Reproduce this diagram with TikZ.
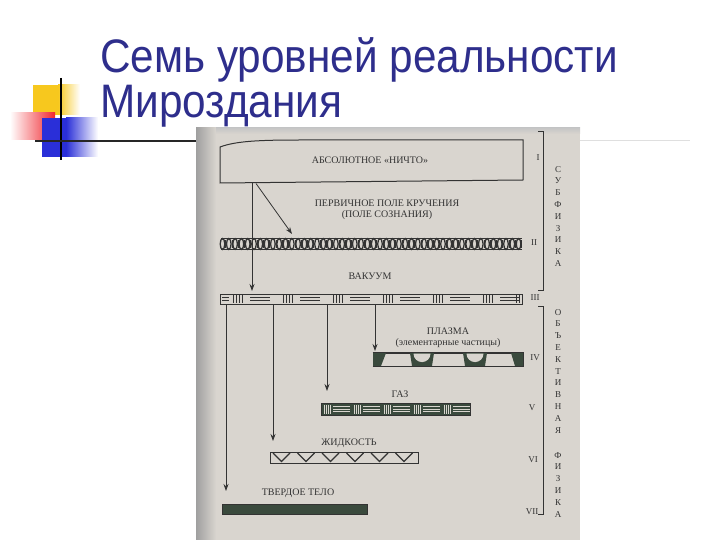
\documentclass[tikz,border=0pt]{standalone}
\usepackage{fontspec}
\setmainfont{Liberation Serif}
\newfontfamily\titlefont{Liberation Sans}
\usetikzlibrary{positioning,arrows.meta}
\definecolor{titleblue}{HTML}{2E2E8C}
\definecolor{scan}{HTML}{D9D5CF}
\definecolor{ink}{HTML}{333333}
\definecolor{inkgreen}{HTML}{3A4A3D}
\definecolor{logoyellow}{HTML}{F7C81E}
\definecolor{logored}{HTML}{F0262E}
\definecolor{logoblue}{HTML}{2A2FD8}

\tikzset{
    lbl/.style={font=\fontsize{10}{11}\selectfont, text=ink, inner sep=0pt, align=center},
    roman/.style={font=\fontsize{9}{10}\selectfont, text=ink, inner sep=0pt},
    sidetext/.style={font=\fontsize{9}{11.8}\selectfont, text=ink, inner sep=0pt, align=center, anchor=north},
    band/.style={draw=ink, line width=1pt, inner sep=0pt, minimum height=#1},
    arr/.style={-{Stealth[length=7pt,width=5pt]}, draw=ink, line width=0.8pt}
}

\begin{document}
\begin{tikzpicture}[x=1pt, y=-1pt]
    \useasboundingbox (0,0) rectangle (720,540);

    % title
    \node[font=\titlefont\fontsize{47}{50}\selectfont, text=titleblue, anchor=base west,
          inner sep=0pt, xscale=0.9, transform shape] (title1) at (100,73) {Семь уровней реальности};
    \node[font=\titlefont\fontsize{47}{50}\selectfont, text=titleblue, anchor=base west,
          inner sep=0pt, xscale=0.9, transform shape] (title2) at (100,118) {Мироздания};

    % logo
    \fill[logoyellow] (33,85) rectangle (58,115);
    \shade[left color=logoyellow, right color=white] (58,85) rectangle (80,115);
    \shade[left color=white, right color=logored] (10,113) rectangle (55,140);
    \fill[logoblue] (42,118) rectangle (66,157);
    \shade[left color=logoblue, right color=white] (66,118) rectangle (98,157);
    \draw[black, line width=1.6pt] (61,78) -- (61,160);
    \draw[black!85, line width=2pt] (35,141) -- (197,141);
    \draw[gray!25, line width=1pt] (580,141) -- (690,141);

    % scanned sheet
    \fill[scan] (196,128) rectangle (580,540);
    \shade[left color=gray!75, right color=scan] (196,128) rectangle (216,540);
    \shade[top color=gray!45, bottom color=scan] (216,128) rectangle (580,134);

    % levels
    \node[band=43pt, draw=none, minimum width=303pt] (absol) at (371.5,161.5) {};
    \draw[ink, line width=1pt] (220,183) -- (220,147) .. controls (236,141) and (260,140) .. (300,140)
        -- (523,140) -- (523,180) -- cycle;
    \node[lbl] at (370,160) {АБСОЛЮТНОЕ «НИЧТО»};
    \node[band=12pt, draw=none, minimum width=302pt] (lvII) at (371,244) {};
    \node[band=10pt, minimum width=302pt] (lvIII) at (371,299) {};
    \node[band=13pt, minimum width=150pt] (lvIV) at (448,359.5) {};
    \node[band=12pt, fill=inkgreen, minimum width=149pt] (lvV) at (395.5,409) {};
    \node[band=11pt, minimum width=148pt] (lvVI) at (344,457.5) {};
    \node[band=10pt, fill=inkgreen, minimum width=145pt] (lvVII) at (294.5,509) {};

    % II: chain
    \foreach \i in {0,...,47} {
        \draw[ink, line width=1.3pt] (222.5+6.3*\i,244) ellipse (2.3pt and 5.4pt);
        \draw[ink, line width=0.8pt] (225.65+6.3*\i,240) -- (225.65+6.3*\i,248);
    }
    \draw[ink, line width=0.8pt] (221,238.8) -- (522,238.8) (221,249.2) -- (522,249.2);

    % III: bars and double strokes
    \foreach \i in {0,...,5} {
        \foreach \k in {0,...,3}
            \draw[ink, line width=0.9pt] (233+50*\i+3*\k,295) -- (233+50*\i+3*\k,303);
        \draw[ink, line width=1.3pt] (250+50*\i,297.3) -- (270+50*\i,297.3)
                                     (250+50*\i,300.7) -- (270+50*\i,300.7);
    }
    \draw[ink, line width=1.3pt] (222,297.3) -- (229,297.3) (222,300.7) -- (229,300.7);
    \draw[ink, line width=0.9pt] (516,295) -- (516,303) (519,295) -- (519,303);

    % IV: arches
    \foreach \x in {410,463} {
        \fill[inkgreen] (\x,353) -- (\x+2,366) -- (\x+22,366) -- (\x+24,353) -- cycle;
        \fill[scan] (\x+3.5,353.6) arc[start angle=180, end angle=360, radius=8.5pt] -- cycle;
    }
    \fill[inkgreen] (373,353) -- (386,353) -- (381,366) -- (373,366) -- cycle;
    \fill[inkgreen] (511,353) -- (523,353) -- (523,366) -- (515,366) -- cycle;
    \draw[ink, line width=1.4pt] (lvIV.north west) -- (lvIV.north east)
                                 (lvIV.south west) -- (lvIV.south east);

    % V: light strokes on dark
    \foreach \i in {0,...,4} {
        \foreach \k in {0,...,3}
            \draw[scan, line width=0.5pt] (324+30*\i+2.2*\k,404.5) -- (324+30*\i+2.2*\k,413.5);
        \draw[scan, line width=0.6pt] (333+30*\i,406.5) -- (350+30*\i,406.5)
                                      (333+30*\i,409) -- (350+30*\i,409)
                                      (333+30*\i,411.5) -- (350+30*\i,411.5);
    }

    % VI: zigzag
    \foreach \i in {0,...,5}
        \draw[ink, line width=1.3pt] (273+24.5*\i,453) -- (281.5+24.5*\i,461.5) -- (290+24.5*\i,453);

    % labels
    \node[lbl] (pole) at (387,209.5) {ПЕРВИЧНОЕ ПОЛЕ КРУЧЕНИЯ\\(ПОЛЕ СОЗНАНИЯ)};
    \node[lbl] (vakuum) at (370,276) {ВАКУУМ};
    \node[lbl] (plazma) [above=5pt of lvIV] {ПЛАЗМА\\(элементарные частицы)};
    \node[lbl] (gaz) at (400,394) {ГАЗ};
    \node[lbl] (zhidk) at (349,443) {ЖИДКОСТЬ};
    \node[lbl] (tverd) at (298,493) {ТВЕРДОЕ ТЕЛО};

    % roman numerals
    \node[roman] (rI) at (538,158) {I};
    \node[roman] (rII) at (534,243) {II};
    \node[roman] (rIII) at (535,298) {III};
    \node[roman] (rIV) at (535,358) {IV};
    \node[roman] (rV) at (532,408) {V};
    \node[roman] (rVI) at (533,460) {VI};
    \node[roman] (rVII) at (532,512) {VII};

    % brackets
    \draw[ink, line width=0.9pt] (538,131) -- (543,131) -- (543,290) -- (538,290);
    \draw[ink, line width=0.9pt] (538,306) -- (543,306) -- (543,514) -- (538,514);
    \node[sidetext] (subf) at (558,166) {С\\У\\Б\\Ф\\И\\З\\И\\К\\А};
    \node[sidetext] (obj) at (558,309) {О\\Б\\Ъ\\Е\\К\\Т\\И\\В\\Н\\А\\Я};
    \node[sidetext] (fiz) at (558,452) {Ф\\И\\З\\И\\К\\А};

    % arrows
    \coordinate (tIII) at (252,291);
    \coordinate (tII) at (292,234);
    \coordinate (dgs) at (256,0);
    \coordinate (tIV) at (375,351);
    \coordinate (tV) at (327,391);
    \coordinate (tVI) at (273,441);
    \coordinate (tVII) at (226,491);
    \draw[arr] (absol.south -| tIII) -- (tIII);
    \draw[arr] (absol.south -| dgs) -- (tII);
    \draw[arr] (lvIII.south -| tIV) -- (tIV);
    \draw[arr] (lvIII.south -| tV) -- (tV);
    \draw[arr] (lvIII.south -| tVI) -- (tVI);
    \draw[arr] (lvIII.south -| tVII) -- (tVII);

\end{tikzpicture}
\end{document}
